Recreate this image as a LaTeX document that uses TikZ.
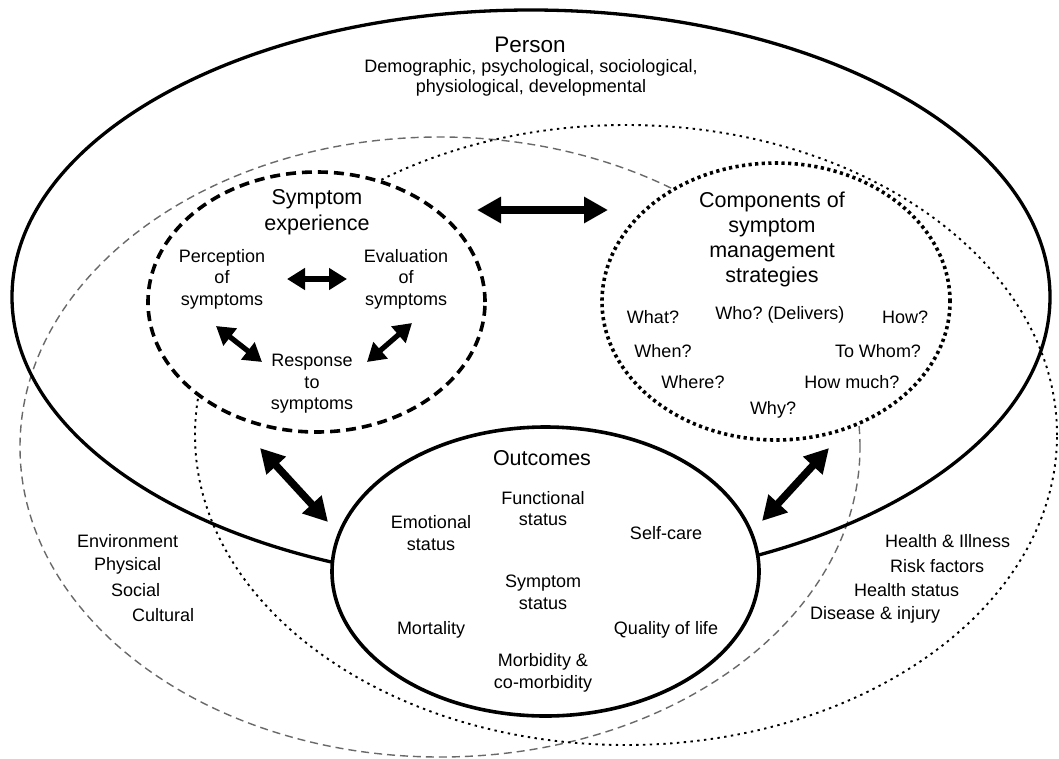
\documentclass[tikz,border=0pt]{standalone}
\usepackage{fontspec}
\setmainfont{Liberation Sans}
\usetikzlibrary{shapes.geometric,arrows.meta}
\definecolor{envgray}{RGB}{105,105,105}
\frenchspacing
\begin{document}
\begin{tikzpicture}[x=1pt,y=-1pt,
  body/.style={font=\fontsize{18}{21.5}\selectfont, align=center, inner sep=0pt},
  titletext/.style={font=\fontsize{21.5}{26}\selectfont, align=center, inner sep=0pt},
  oval/.style={ellipse, inner sep=0pt, outer sep=0pt},
  envline/.style={draw=envgray, line width=1.4pt, dash pattern=on 8pt off 5pt},
  healthline/.style={draw=black, line width=1.9pt, dash pattern=on 2.4pt off 4.4pt},
  personline/.style={draw=black, line width=3.3pt},
  sympline/.style={draw=black, fill=white, line width=3.6pt, dash pattern=on 10pt off 6pt},
  compline/.style={draw=black, fill=white, line width=3.6pt, dash pattern=on 3.2pt off 3.4pt},
  outline/.style={draw=black, fill=white, line width=3.6pt},
  bigarrow/.style={line width=7.5pt, {Triangle[length=24pt,width=25pt]}-{Triangle[length=24pt,width=25pt]}},
  smallarrow/.style={line width=5.2pt, {Triangle[length=18pt,width=21pt]}-{Triangle[length=18pt,width=21pt]}}
]
\useasboundingbox (0,0) rectangle (1059,758);
\fill[white] (0,0) rectangle (1059,758);

% outer context ellipses
\node[oval, envline, minimum width=840pt, minimum height=620pt] (env) at (440,447) {};
\node[oval, healthline, minimum width=862pt, minimum height=620pt] (health) at (626,435) {};
\node[oval, personline, minimum width=1038pt, minimum height=574pt] (person) at (531,297) {};

% inner ellipses
\node[oval, sympline, minimum width=337pt, minimum height=260pt] (symp) at (316.5,302) {};
\node[oval, compline, minimum width=348pt, minimum height=277pt] (comp) at (776,301.5) {};
\node[oval, outline, minimum width=427pt, minimum height=289pt] (outc) at (545.5,571.5) {};

% Person
\node[titletext, font=\fontsize{22.5}{26}\selectfont] (persontitle) at (530,45) {Person};
\node[body, font=\fontsize{18}{20.5}\selectfont] (persondesc) at (531,78) {Demographic, psychological, sociological,\\physiological, developmental};

% Symptom experience
\node[titletext] (symptitle) at (317,212) {Symptom\\experience};
\node[body] (perc) at (222,279) {Perception\\of\\symptoms};
\node[body] (eval) at (406,279) {Evaluation\\of\\symptoms};
\node[body] (resp) at (312,384) {Response\\to\\symptoms};

% Components
\node[titletext, font=\fontsize{21.5}{25}\selectfont] (comptitle) at (772,239.5) {Components of\\symptom\\management\\strategies};
\node[body] (what) at (653,317) {What?};
\node[body] (who) at (780,315) {Who? (Delivers)};
\node[body] (how) at (905,317) {How?};
\node[body] (when) at (663,351) {When?};
\node[body] (towhom) at (878,351) {To Whom?};
\node[body] (where) at (693,382) {Where?};
\node[body] (howmuch) at (852,382) {How much?};
\node[body] (why) at (773,410) {Why?};

% Outcomes
\node[titletext] (outtitle) at (542,458) {Outcomes};
\node[body] (func) at (543,508.5) {Functional\\status};
\node[body] (emot) at (431,533) {Emotional\\status};
\node[body] (selfcare) at (666,533) {Self-care};
\node[body] (sympstat) at (543,592.5) {Symptom\\status};
\node[body] (mort) at (431,630) {Mortality};
\node[body] (qol) at (666,630) {Quality of life};
\node[body] (morb) at (543,673) {Morbidity \&\\co-morbidity};

% Environment
\node[body, anchor=west] (envA) at (77,541) {Environment};
\node[body, anchor=west] (envB) at (94,566) {Physical};
\node[body, anchor=west] (envC) at (111,590) {Social};
\node[body, anchor=west] (envD) at (132,615) {Cultural};

% Health & Illness
\node[body, anchor=west] (hiA) at (885,541) {Health \& Illness};
\node[body, anchor=west] (hiB) at (890,566) {Risk factors};
\node[body, anchor=west] (hiC) at (854,590) {Health status};
\node[body, anchor=west] (hiD) at (810,615) {Disease \& injury};

% arrow end points
\coordinate (sc1) at (477,210);
\coordinate (sc2) at (608,210);
\coordinate (pe1) at (287,279);
\coordinate (pe2) at (347,279);
\coordinate (pr1) at (216,326);
\coordinate (pr2) at (262,362);
\coordinate (er1) at (412,323);
\coordinate (er2) at (367,362);
\coordinate (so1) at (260,448);
\coordinate (so2) at (328,522);
\coordinate (co1) at (829,448);
\coordinate (co2) at (762,521);

\draw[bigarrow] (sc1) -- (sc2);
\draw[bigarrow] (so1) -- (so2);
\draw[bigarrow] (co1) -- (co2);
\draw[smallarrow] (pe1) -- (pe2);
\draw[smallarrow] (pr1) -- (pr2);
\draw[smallarrow] (er1) -- (er2);
\end{tikzpicture}
\end{document}
